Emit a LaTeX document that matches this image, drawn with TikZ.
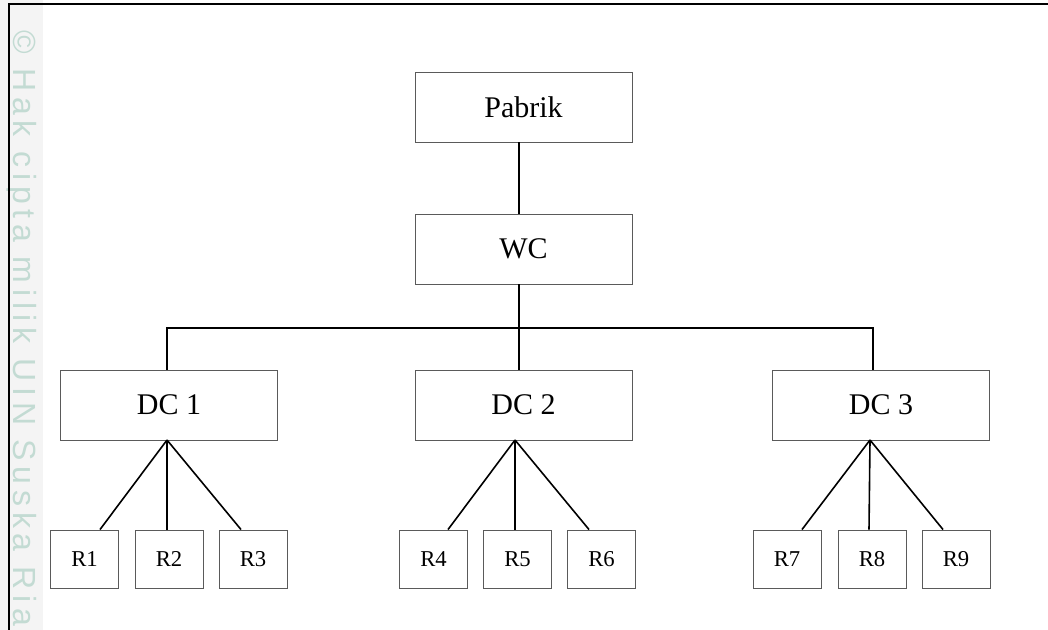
\documentclass[tikz,border=0pt]{standalone}
\usepackage{fontspec}
\setmainfont{Liberation Serif}
\newfontfamily\wmfont[LetterSpace=18]{Liberation Sans}
\usetikzlibrary{calc}
\definecolor{wmgreen}{HTML}{C3DBD3}
\definecolor{boxgray}{HTML}{5A5A5A}
\definecolor{stripgray}{HTML}{F4F4F4}
\tikzset{
  big/.style={draw=boxgray, line width=0.7pt, minimum width=162.75pt, minimum height=52.5pt, inner sep=0pt, font=\fontsize{22.5}{26}\selectfont},
  small/.style={draw=boxgray, line width=0.7pt, minimum width=51pt, minimum height=43.5pt, inner sep=0pt, font=\fontsize{17}{20}\selectfont},
  link/.style={line width=1.2pt, black},
  frame/.style={line width=1.6pt, black}
}
\begin{document}
\begin{tikzpicture}[x=0.75pt, y=-0.75pt]
\useasboundingbox (0,0) rectangle (1048,630);
\fill[white] (0,0) rectangle (1048,630);
\fill[stripgray] (0,0) rectangle (43,630);
\node[wmgreen, rotate=-90, anchor=west, inner sep=0pt, font=\wmfont\fontsize{24}{24}\selectfont] (wm) at (22,30) {© Hak cipta milik UIN Suska Riau};
\draw[frame] (9,630) -- (9,4) -- (1048,4);

\node[big] (pabrik) at (523.5,107) {Pabrik};
\node[big] (wc) at (523.5,249) {WC};
\node[big] (dc1) at (169,405) {DC 1};
\node[big] (dc2) at (523.5,405) {DC 2};
\node[big] (dc3) at (881,405) {DC 3};

\node[small] (r1) at (84.5,559) {R1};
\node[small] (r2) at (169,559) {R2};
\node[small] (r3) at (253,559) {R3};
\node[small] (r4) at (433.5,559) {R4};
\node[small] (r5) at (517.5,559) {R5};
\node[small] (r6) at (601.5,559) {R6};
\node[small] (r7) at (787,559) {R7};
\node[small] (r8) at (872,559) {R8};
\node[small] (r9) at (956,559) {R9};

\coordinate (spine) at (519,328);
\coordinate (b1) at (167,328);
\coordinate (b3) at (873,328);

\draw[link] (pabrik.south -| spine) -- (wc.north -| spine);
\draw[link] (wc.south -| spine) -- (spine);
\draw[link] (dc1.north -| b1) -- (b1) -- (b3) -- (dc3.north -| b3);
\draw[link] (spine) -- (dc2.north -| spine);

\coordinate (f1) at (167,440);
\coordinate (f2) at (515,440);
\coordinate (f3) at (870,440);

\draw[link] (f1) -- ($(r1.north)+(15.5,0)$);
\draw[link] (f1) -- ($(r2.north)+(-2,0)$);
\draw[link] (f1) -- ($(r3.north)+(-12,0)$);
\draw[link] (f2) -- ($(r4.north)+(14.5,0)$);
\draw[link] (f2) -- ($(r5.north)+(-2.5,0)$);
\draw[link] (f2) -- ($(r6.north)+(-12.5,0)$);
\draw[link] (f3) -- ($(r7.north)+(15,0)$);
\draw[link] (f3) -- ($(r8.north)+(-3,0)$);
\draw[link] (f3) -- ($(r9.north)+(-13,0)$);
\end{tikzpicture}
\end{document}
